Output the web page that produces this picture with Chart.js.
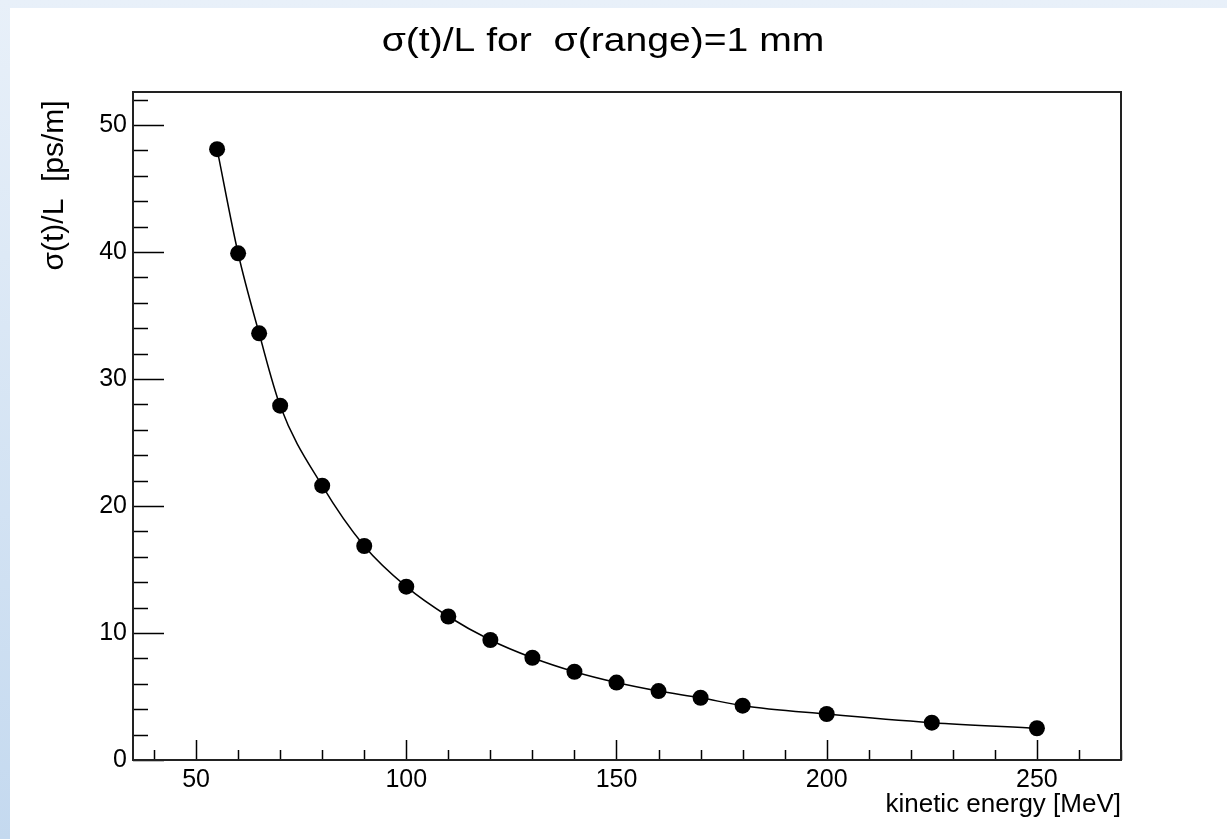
<!DOCTYPE html>
<html>
<head>
<meta charset="utf-8">
<script src="https://cdn.jsdelivr.net/npm/chart.js@4.4.1/dist/chart.umd.min.js"></script>
<style>
  html, body { margin: 0; padding: 0; width: 1227px; height: 839px; overflow: hidden;
    background: linear-gradient(to bottom, #e8f0f9, #c4d9ef); }
  #wrap { position: absolute; left: 10px; top: 8px; width: 1217px; height: 831px; background: #fff; }
</style>
</head>
<body>
<div id="wrap"><canvas id="grafica" width="1217" height="831"></canvas></div>
<script>
// kinetic energy [MeV]
const ENERGIA = [55, 60, 65, 70, 80, 90, 100, 110, 120, 130, 140, 150, 160, 170, 180, 200, 225, 250];
// sigma(t)/L [ps/m]
const SIGMA = [48.1, 39.9, 33.6, 27.9, 21.6, 16.85, 13.65, 11.3, 9.45, 8.05, 6.95, 6.1, 5.43, 4.9, 4.28, 3.62, 2.94, 2.5];
const X_TICKS = [50, 100, 150, 200, 250];
const Y_TICKS = [0, 10, 20, 30, 40, 50];
const TITULO = "σ(t)/L for  σ(range)=1 mm";
const FUENTE = "'Liberation Sans', Arial, Helvetica, sans-serif";

// ROOT style: frame, inward ticks and stretched title
const marco = {
    id: "marco",
    afterDraw(chart) {
        const {ctx, chartArea: a, scales: {x, y}} = chart;
        ctx.save();
        ctx.strokeStyle = "#000";
        ctx.lineWidth = 1.5;
        ctx.beginPath();
        for (let v = 40; v <= 270; v += 10) {
            const px = Math.round(x.getPixelForValue(v)) + 0.5;
            const len = v % 50 === 0 ? 20 : 10;
            ctx.moveTo(px, a.bottom);
            ctx.lineTo(px, a.bottom - len);
        }
        for (let v = 0; v <= 52; v += 2) {
            const py = Math.round(y.getPixelForValue(v)) + 0.5;
            const len = v % 10 === 0 ? 31 : 15;
            ctx.moveTo(a.left, py);
            ctx.lineTo(a.left + len, py);
        }
        ctx.stroke();
        ctx.lineWidth = 2;
        ctx.strokeStyle = "#222";
        ctx.strokeRect(a.left, a.top, a.right - a.left, a.bottom - a.top);

        ctx.fillStyle = "#000";
        ctx.font = "34px " + FUENTE;
        ctx.textAlign = "center";
        ctx.textBaseline = "alphabetic";
        ctx.translate(593, 43);
        ctx.scale(1.15, 1);
        ctx.fillText(TITULO, 0, 0);
        ctx.restore();
    }
};

window.onload = () => {
    const ctx = document.getElementById("grafica").getContext("2d");
    new Chart(ctx, {
        type: "line",
        data: {
            datasets: [{
                data: ENERGIA.map((e, i) => ({x: e, y: SIGMA[i]})),
                borderColor: "#000",
                borderWidth: 1.5,
                backgroundColor: "#000",
                pointRadius: 8,
                pointBorderWidth: 0,
                pointBackgroundColor: "#000",
                cubicInterpolationMode: "monotone",
                fill: false
            }]
        },
        options: {
            responsive: false,
            animation: false,
            layout: {padding: {left: 0, right: 106, top: 84, bottom: 0}},
            scales: {
                x: {
                    type: "linear",
                    min: 35,
                    max: 270,
                    afterBuildTicks: s => { s.ticks = X_TICKS.map(v => ({value: v})); },
                    afterFit: s => { s.height = 79; },
                    grid: {display: false, drawTicks: false},
                    border: {display: false},
                    ticks: {color: "#000", padding: 5, font: {family: FUENTE, size: 25}, maxRotation: 0},
                    title: {display: true, text: "kinetic energy [MeV]", align: "end", color: "#000",
                        font: {family: FUENTE, size: 26}, padding: {top: 0, bottom: 19}}
                },
                y: {
                    type: "linear",
                    min: 0,
                    max: 52.6,
                    afterBuildTicks: s => { s.ticks = Y_TICKS.map(v => ({value: v})); },
                    afterFit: s => { s.width = 123; },
                    grid: {display: false, drawTicks: false},
                    border: {display: false},
                    ticks: {color: "#000", padding: 6, font: {family: FUENTE, size: 25}},
                    title: {display: true, text: "σ(t)/L  [ps/m] ", align: "end", color: "#000",
                        font: {family: FUENTE, size: 30}, padding: {top: 27, bottom: 0}}
                }
            },
            plugins: {
                legend: {display: false},
                tooltip: {enabled: false}
            }
        },
        plugins: [marco]
    });
};
</script>
</body>
</html>
